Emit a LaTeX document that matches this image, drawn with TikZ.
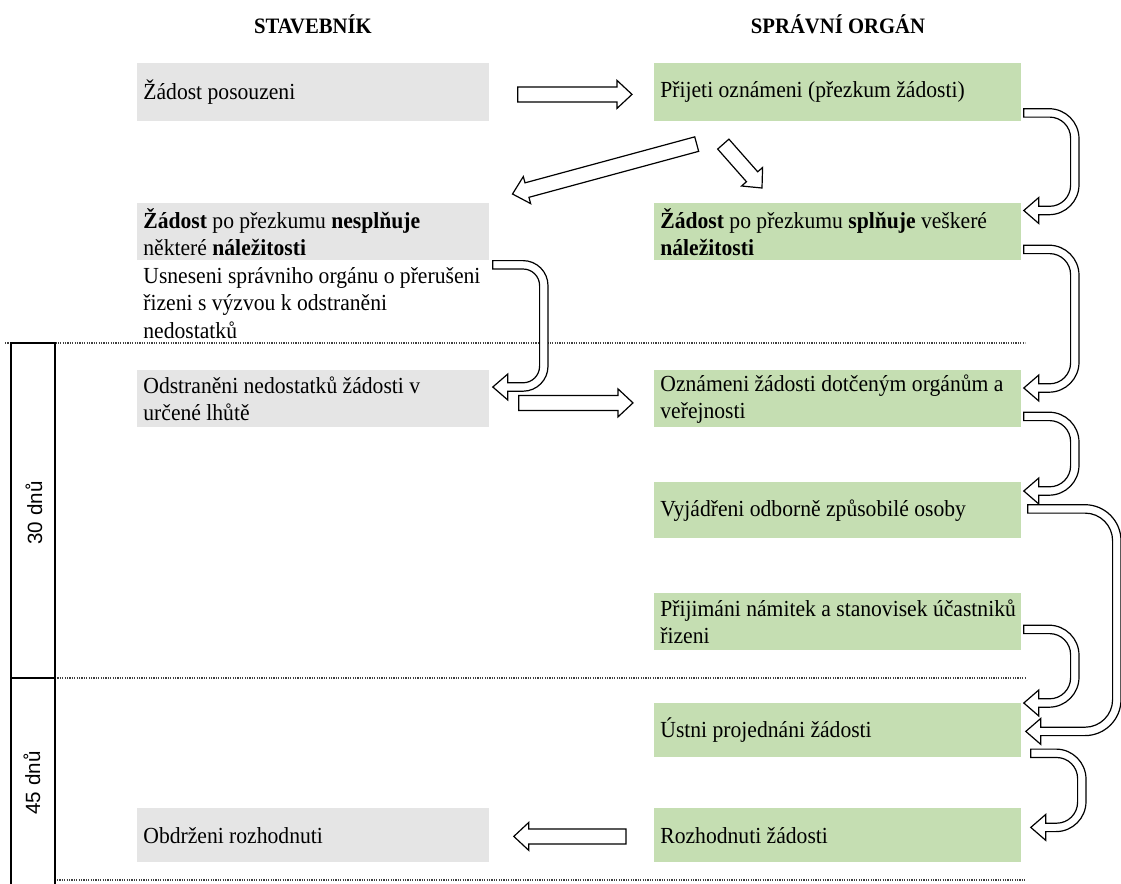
\documentclass[tikz,border=0pt]{standalone}
\usepackage{fontspec}
\setmainfont{Liberation Serif}[FakeStretch=0.94]
\setsansfont{Liberation Sans}
\usetikzlibrary{calc}

\definecolor{boxgray}{RGB}{229,229,229}
\definecolor{boxgreen}{RGB}{197,222,178}

\newcommand\diafont{\fontsize{11.5pt}{13.75pt}\selectfont}

% straight block arrow from tail #1 to tip #2
\newcommand\flatarrow[2]{%
  \coordinate (fa-base) at ($(#2)!7.5pt!(#1)$);
  \draw[blockarrow] ($(#1)!3.75pt!90:(#2)$) -- ($(fa-base)!3.75pt!90:(#2)$)
    -- ($(fa-base)!7pt!90:(#2)$) -- (#2) -- ($(fa-base)!7pt!-90:(#2)$)
    -- ($(fa-base)!3.75pt!-90:(#2)$) -- ($(#1)!3.75pt!-90:(#2)$) -- cycle;}

% bent block arrow: leaves tail #1 to the right, runs down at #3 right of
% the tail, comes back left to tip #2; #4 outer and #5 inner corner radius
\newcommand\bendarrow[5]{%
  \draw[blockarrow] let \p1=(#1), \p2=(#2), \n1={\x1+#3} in
    (\x1,{\y1+2.1pt}) [rounded corners=#4] -- ({\n1+2.1pt},{\y1+2.1pt})
    -- ({\n1+2.1pt},{\y2-2.1pt})
    [sharp corners] -- ({\x2+7.5pt},{\y2-2.1pt}) -- ({\x2+7.5pt},{\y2-6.5pt})
    -- (\x2,\y2) -- ({\x2+7.5pt},{\y2+6.5pt}) -- ({\x2+7.5pt},{\y2+2.1pt})
    [rounded corners=#5] -- ({\n1-2.1pt},{\y2+2.1pt}) -- ({\n1-2.1pt},{\y1-2.1pt})
    [sharp corners] -- (\x1,{\y1-2.1pt}) -- cycle;}

\tikzset{
  stepbox/.style={anchor=north west, inner xsep=3pt, inner ysep=0pt,
    align=flush left, font=\diafont},
  graybox/.style={stepbox, fill=boxgray, text width=170pt},
  greenbox/.style={stepbox, fill=boxgreen, text width=177.5pt},
  headtext/.style={font=\bfseries\fontsize{11pt}{13pt}\selectfont},
  daytext/.style={rotate=90, font=\sffamily\fontsize{10.3pt}{12pt}\selectfont},
  blockarrow/.style={draw=black, fill=white, line width=0.6pt, line join=miter},
  sepline/.style={draw=black!75, line width=0.6pt, dash pattern=on 0.6pt off 0.6pt},
  frameline/.style={draw=black, line width=0.75pt}
}

\begin{document}
\begin{tikzpicture}[x=0.5pt,y=-0.5pt]
\useasboundingbox (0,0) rectangle (1121,884);

% column headings
\node[headtext] (hs) at (313,24) {STAVEBNÍK};
\node[headtext] (ho) at (838,24) {SPRÁVNÍ ORGÁN};

% period separators and the time frame
\draw[sepline] (5,343) -- (1025,343);
\draw[sepline] (55,678) -- (1025,678);
\draw[sepline] (57,880) -- (1025,880);
\draw[frameline] (11,884) |- (55,343) -- (55,884);
\draw[frameline] (11,678) -- (55,678);
\node[daytext] (d30) at (34,513) {30 dnů};
\node[daytext] (d45) at (32,783) {45 dnů};

% applicant column
\node[graybox, minimum height=29pt] (s1) at (137,63) {Žádost posouzeni};
\node[graybox, minimum height=28.5pt] (s2) at (137,203)
  {\mbox{\textbf{Žádost} po přezkumu \textbf{nesplňuje}}\\\mbox{některé \textbf{náležitosti}}};
\node[anchor=north west, inner sep=0pt, align=flush left, font=\diafont] (note) at (143,267)
  {Usneseni správniho orgánu o přerušeni\\řizeni s výzvou k odstraněni\\nedostatků};
\node[graybox, minimum height=28.5pt] (s3) at (137,370)
  {\mbox{Odstraněni nedostatků žádosti v}\\\mbox{určené lhůtě}};
\node[graybox, minimum height=27pt] (s4) at (137,808) {Obdrženi rozhodnuti};

% authority column
\node[greenbox, minimum height=29pt] (g1) at (654,63) {\mbox{Přijeti oznámeni (přezkum žádosti)}};
\node[greenbox, minimum height=28.5pt] (g2) at (654,203)
  {\mbox{\textbf{Žádost} po přezkumu \textbf{splňuje} veškeré}\\\mbox{\textbf{náležitosti}}};
\node[greenbox, minimum height=28.5pt] (g3) at (654,370)
  {\mbox{Oznámeni žádosti dotčeným orgánům a}\\\mbox{veřejnosti}};
\node[greenbox, minimum height=28pt] (g4) at (654,482) {\mbox{Vyjádřeni odborně způsobilé osoby}};
\node[greenbox, minimum height=28.5pt] (g5) at (654,593)
  {\mbox{Přijimáni námitek a stanovisek účastniků}\\\mbox{řizeni}};
\node[greenbox, minimum height=27pt] (g6) at (654,703) {\mbox{Ústni projednáni žádosti}};
\node[greenbox, minimum height=27pt] (g7) at (654,808) {\mbox{Rozhodnuti žádosti}};

% arrow ends
\coordinate (a1t) at ($(s1.east)+(28,2)$);
\coordinate (a1h) at ($(g1.west)+(-22,2)$);
\coordinate (a2t) at ($(g1.south west)+(42.7,22.3)$);
\coordinate (a2h) at ($(s2.north east)+(22.7,-9)$);
\coordinate (a3t) at ($(g1.south west)+(69.3,22.3)$);
\coordinate (a3h) at ($(g2.north west)+(108,-15)$);
\coordinate (a4t) at ($(s3.east)+(29,4)$);
\coordinate (a4h) at ($(g3.west)+(-21,4)$);
\coordinate (a5t) at ($(g7.west)+(-28,1)$);
\coordinate (a5h) at ($(s4.east)+(24,1)$);

\coordinate (c1t) at ($(g1.east)+(2,20.5)$);
\coordinate (c1h) at ($(g2.north east)+(2,7.5)$);
\coordinate (c2t) at ($(g2.east)+(2,17.5)$);
\coordinate (c2h) at ($(g3.north east)+(2,18)$);
\coordinate (c3t) at ($(g3.east)+(2,17.5)$);
\coordinate (c3h) at ($(g4.north east)+(2,9)$);
\coordinate (c4t) at ($(g4.east)+(6,-1.5)$);
\coordinate (c4h) at ($(g6.east)+(4,1)$);
\coordinate (c5t) at ($(g5.east)+(2,7.5)$);
\coordinate (c5h) at ($(g6.north east)+(2,0)$);
\coordinate (c6t) at ($(g6.south east)+(9,-4.5)$);
\coordinate (c6h) at ($(g7.east)+(9,-8)$);
\coordinate (ut) at ($(s2.south east)+(3,4)$);
\coordinate (uh) at ($(s3.north east)+(3,17)$);

% straight arrows
\flatarrow{a1t}{a1h}
\flatarrow{a2t}{a2h}
\flatarrow{a3t}{a3h}
\flatarrow{a4t}{a4h}
\flatarrow{a5t}{a5h}

% bent arrows
\bendarrow{c1t}{c1h}{25.5pt}{15pt}{10.5pt}
\bendarrow{c2t}{c2h}{25.5pt}{15pt}{10.5pt}
\bendarrow{ut}{uh}{25.5pt}{12.5pt}{8.3pt}
\bendarrow{c3t}{c3h}{25.5pt}{15pt}{10.5pt}
\bendarrow{c4t}{c4h}{44.5pt}{18pt}{13.8pt}
\bendarrow{c5t}{c5h}{25.5pt}{15pt}{10.5pt}
\bendarrow{c6t}{c6h}{25.5pt}{15pt}{10.5pt}
\end{tikzpicture}
\end{document}
